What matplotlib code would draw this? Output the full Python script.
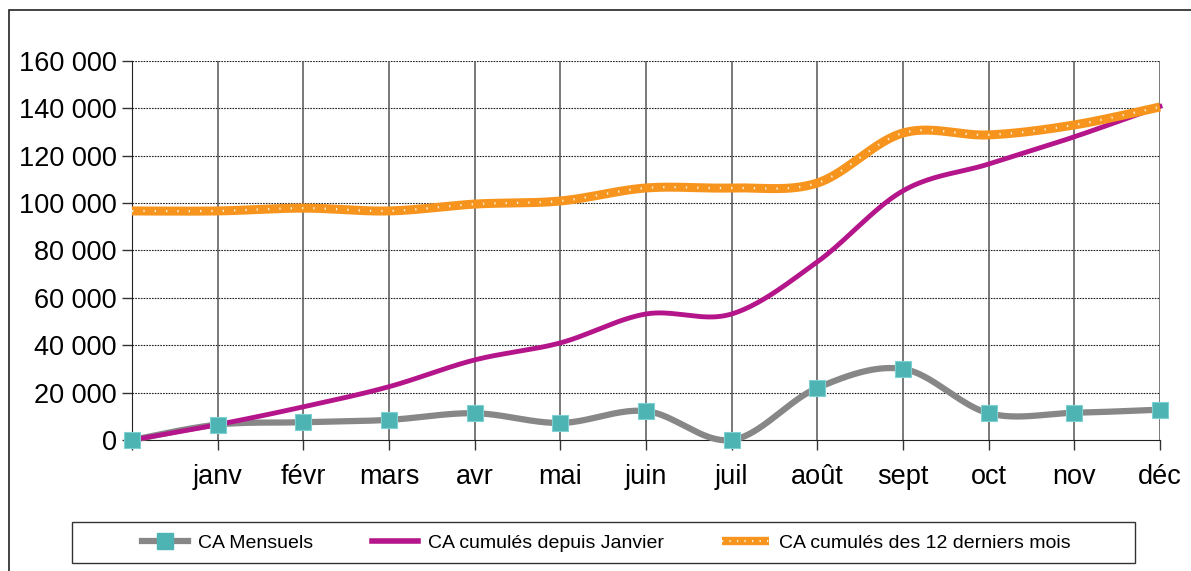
import matplotlib.pyplot as plt
import numpy as np
from matplotlib.patches import Rectangle

plt.rcParams['font.family'] = ['Liberation Sans', 'DejaVu Sans']

mois = ['', 'janv', 'févr', 'mars', 'avr', 'mai', 'juin', 'juil', 'août', 'sept', 'oct', 'nov', 'déc']
ca_mensuels = [0, 6500, 7500, 8500, 11300, 7200, 12200, 0, 22000, 30000, 11300, 11500, 12800]
ca_cumules = [0, 6500, 14000, 22500, 33800, 41000, 53200, 53200, 75200, 105200, 116500, 128000, 140800]
ca_12mois = [96700, 96700, 97900, 96700, 99600, 100900, 106400, 106400, 108500, 129600, 128800, 133000, 140600]


def smooth(x, y, n=40):
    # courbe lissée type Excel (bezier passant par les points)
    x = np.asarray(x, float)
    y = np.asarray(y, float)
    px = np.concatenate([[x[0]], x, [x[-1]]])
    py = np.concatenate([[y[0]], y, [y[-1]]])
    xs, ys = [], []
    t = np.linspace(0, 1, n)
    for i in range(len(x) - 1):
        x0, x1, x2, x3 = px[i], px[i + 1], px[i + 2], px[i + 3]
        y0, y1, y2, y3 = py[i], py[i + 1], py[i + 2], py[i + 3]
        cx1, cy1 = x1 + (x2 - x0) / 6, y1 + (y2 - y0) / 6
        cx2, cy2 = x2 - (x3 - x1) / 6, y2 - (y3 - y1) / 6
        bx = (1 - t)**3 * x1 + 3 * (1 - t)**2 * t * cx1 + 3 * (1 - t) * t**2 * cx2 + t**3 * x2
        by = (1 - t)**3 * y1 + 3 * (1 - t)**2 * t * cy1 + 3 * (1 - t) * t**2 * cy2 + t**3 * y2
        xs.extend(bx)
        ys.extend(by)
    return np.array(xs), np.array(ys)


x = np.arange(len(mois))

fig = plt.figure(figsize=(11.91, 5.71), dpi=100)
ax = fig.add_axes([132 / 1191, 131 / 571, 1028 / 1191, 379 / 571])

ax.set_xlim(0, 12)
ax.set_ylim(0, 160000)

for yv in range(20000, 160001, 20000):
    ax.axhline(yv, color='#222222', lw=0.8, ls=(0, (1.5, 1)), zorder=1)
for xv in x:
    ax.axvline(xv, color='#555555', lw=1.1, zorder=1)

sx, sy = smooth(x, ca_mensuels)
ax.plot(sx, sy, color='#878787', lw=4.5, zorder=3, clip_on=False)
ax.plot(x, ca_mensuels, ls='none', marker='s', ms=11, color='#4DB3B3',
        markeredgecolor='#7FD0D0', markeredgewidth=0.8, zorder=4, clip_on=False)

sx, sy = smooth(x, ca_cumules)
ax.plot(sx, sy, color='#B5158A', lw=3.5, zorder=3, clip_on=False)

sx, sy = smooth(x, ca_12mois)
ax.plot(sx, sy, color='#F7941D', lw=6.5, zorder=3, clip_on=False, solid_capstyle='butt')
ax.plot(sx, sy, color='#FFF3DC', lw=1.6, ls=(0, (0.6, 4.5)), zorder=3, clip_on=False)

ax.set_xticks(x)
ax.set_xticklabels(mois)
ax.set_yticks(range(0, 160001, 20000))
ax.set_yticklabels([f'{v:,}'.replace(',', ' ') for v in range(0, 160001, 20000)])
ax.tick_params(axis='both', labelsize=19.5, length=7, width=1, color='#333333', pad=4)
ax.tick_params(axis='x', pad=10)

ax.spines['top'].set_visible(False)
ax.spines['right'].set_visible(False)
ax.spines['left'].set_color('#222222')
ax.spines['bottom'].set_color('#222222')

# legende
h1, = ax.plot([], [], color='#878787', lw=4.5, marker='s', ms=11, markerfacecolor='#4DB3B3',
              markeredgecolor='#4DB3B3')
h2, = ax.plot([], [], color='#B5158A', lw=4)
h3a, = ax.plot([], [], color='#F7941D', lw=6, solid_capstyle='butt')
h3b, = ax.plot([], [], color='#FFF3DC', lw=1.5, ls=(0, (0.6, 3)))
leg = fig.legend([h1, h2, (h3a, h3b)], ['CA Mensuels', 'CA cumulés depuis Janvier', 'CA cumulés des 12 derniers mois'],
                 loc='center', bbox_to_anchor=(606 / 1191, 1 - 543 / 571), ncol=3, fontsize=14,
                 frameon=False, handlelength=2.4, handletextpad=0.5, columnspacing=3.0)

fig.patches.append(Rectangle((72 / 1191, 1 - 563 / 571), 1063 / 1191, 41 / 571, transform=fig.transFigure,
                             fill=False, edgecolor='#333333', lw=1))
fig.patches.append(Rectangle((9 / 1191, -0.05), 1.2, 1 - 10 / 571 + 0.05, transform=fig.transFigure,
                             fill=False, edgecolor='#222222', lw=1.2))

fig.savefig('out.png', dpi=100)
